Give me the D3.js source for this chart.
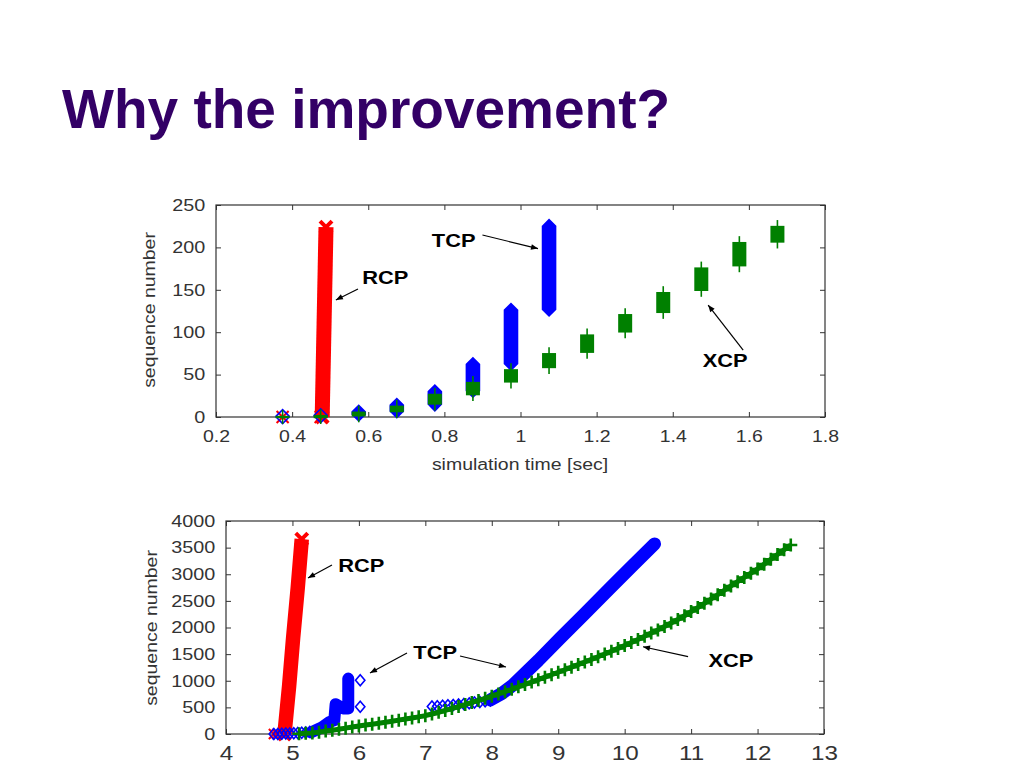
<!DOCTYPE html>
<html>
<head>
<meta charset="utf-8">
<script src="https://cdn.jsdelivr.net/npm/d3@7"></script>
<style>body{margin:0;background:#fff}</style>
</head>
<body>
<script>
// ---- top panel: one burst of packets per RTT ----
const topTimes = [0.375, 0.475, 0.575, 0.675, 0.775, 0.875, 0.975, 1.075, 1.175, 1.275, 1.375, 1.475, 1.575, 1.675];
const tcpTopLo = [0, 1, 3, 7, 15, 31, 63, 127];
const tcpTopHi = [1, 2, 6, 14, 30, 62, 126, 225];
const xcpTopLo = [0, 0, 2, 7, 16, 27, 42, 59, 77, 101, 124, 150, 179, 207];
const xcpTopHi = [0, 1, 5, 12, 26, 40, 55, 74, 96, 120, 146, 175, 205, 224];
const rcpTopBand = [[0.479, 0], [0.489, 224]];
const rcpTopMarks = [[0.375, 0], [0.475, 0]];
const topXTicks = [0.2, 0.4, 0.6, 0.8, 1, 1.2, 1.4, 1.6, 1.8];
const topYTicks = [0, 50, 100, 150, 200, 250];

// ---- bottom panel ----
const rcpBotBand = [[4.88, 0], [4.95, 900], [5.01, 1800], [5.08, 2750], [5.14, 3660]];
const rcpBotMarks = [[4.72, 0], [4.77, 0]];
const tcpBotStart = [[4.72, 0], [4.78, 0], [4.84, 5], [4.9, 10], [4.96, 10], [5.02, 15], [5.08, 20], [5.14, 25], [5.2, 30], [5.26, 40]];
const tcpBotSlow = [[5.28, 30], [5.45, 130], [5.55, 220], [5.63, 260], [5.65, 560], [5.76, 480], [5.84, 480], [5.84, 1040]];
const tcpBotLost = [[6.02, 1010], [6.02, 510]];
const tcpBotFlat = [[7.1, 515], [7.18, 520], [7.26, 530], [7.34, 540], [7.42, 545], [7.5, 555], [7.58, 565], [7.66, 575], [7.74, 590], [7.82, 600], [7.9, 615], [7.98, 630]];
const tcpBotBand = [[7.98, 640], [8.15, 760], [8.3, 900], [8.7, 1380], [9.03, 1800], [9.4, 2260], [9.78, 2740], [10.1, 3140], [10.45, 3570]];
const xcpBotTime = [5.1, 5.2, 5.3, 5.4, 5.5, 5.6, 5.7, 5.8, 5.9, 6.0, 6.1, 6.2, 6.3, 6.4, 6.5, 6.6, 6.7, 6.8, 6.9, 7.0,
  7.1, 7.2, 7.3, 7.4, 7.5, 7.6, 7.7, 7.8, 7.9, 8.0, 8.1, 8.2, 8.3, 8.4, 8.5, 8.6, 8.7, 8.8, 8.9, 9.0,
  9.1, 9.2, 9.3, 9.4, 9.5, 9.6, 9.7, 9.8, 9.9, 10.0, 10.1, 10.2, 10.3, 10.4, 10.5, 10.6, 10.7, 10.8, 10.9, 11.0,
  11.1, 11.2, 11.3, 11.4, 11.5, 11.6, 11.7, 11.8, 11.9, 12.0, 12.1, 12.2, 12.3, 12.4, 12.5];
const xcpBotSeq = [5, 12, 20, 35, 55, 72, 90, 110, 130, 150, 168, 185, 203, 222, 240, 260, 280, 300, 322, 345,
  375, 408, 443, 478, 515, 553, 592, 630, 670, 710, 752, 795, 840, 885, 930, 975, 1020, 1067, 1113, 1160,
  1207, 1255, 1303, 1352, 1400, 1450, 1502, 1555, 1607, 1660, 1718, 1776, 1835, 1895, 1955, 2020, 2085, 2150, 2220, 2300,
  2375, 2455, 2535, 2615, 2700, 2780, 2860, 2940, 3020, 3100, 3190, 3280, 3370, 3460, 3550];
const botXTicks = [4, 5, 6, 7, 8, 9, 10, 11, 12, 13];
const botYTicks = [0, 500, 1000, 1500, 2000, 2500, 3000, 3500, 4000];

// annotations (data coords)
const topNotes = [
  {text: "RCP", at: [0.584, 165], arrows: [[[0.573, 151], [0.515, 138]]]},
  {text: "TCP", at: [0.767, 208], arrows: [[[0.90, 214.6], [1.046, 198.6]]]},
  {text: "XCP", at: [1.479, 67], arrows: [[[1.585, 79], [1.493, 132]]]}
];
const botNotes = [
  {text: "RCP", at: [5.69, 3164], arrows: [[[5.595, 3174], [5.234, 2930]]]},
  {text: "TCP", at: [6.82, 1530], arrows: [[[6.724, 1521], [6.167, 1146]], [[7.522, 1465], [8.214, 1258]]]},
  {text: "XCP", at: [11.26, 1374], arrows: [[[10.954, 1452], [10.276, 1639]]]}
];

const FONT = "'Liberation Sans', Arial, sans-serif";
const RED = "#ff0000", BLUE = "#0000ff", GREEN = "#008000";

const svg = d3.select("body").append("svg")
    .attr("width", 1024)
    .attr("height", 768)
    .style("background-color", "#fff");

svg.append("defs").append("marker")
    .attr("id", "arrow")
    .attr("viewBox", "0 0 10 10")
    .attr("refX", 10).attr("refY", 5)
    .attr("markerUnits", "userSpaceOnUse")
    .attr("markerWidth", 9).attr("markerHeight", 7)
    .attr("orient", "auto")
  .append("path")
    .attr("d", "M0,1L10,5L0,9z")
    .attr("fill", "#000");

svg.append("text")
    .attr("x", 62).attr("y", 128)
    .attr("font-family", FONT)
    .attr("font-weight", "bold")
    .attr("font-size", 55)
    .attr("fill", "#330066")
    .text("Why the improvement?");

// scales
const xT = d3.scaleLinear().domain([0.2, 1.8]).range([216, 825]);
const yT = d3.scaleLinear().domain([0, 250]).range([417, 205]);
const xB = d3.scaleLinear().domain([4, 13]).range([226, 824]);
const yB = d3.scaleLinear().domain([0, 4000]).range([734, 521]);

function styleAxis(a, fs, stretch) {
  a.select(".domain").remove();
  a.selectAll("line").attr("stroke", "#333");
  a.selectAll("text")
      .attr("font-family", FONT)
      .attr("font-size", fs)
      .attr("fill", "#333")
      .attr("transform", `scale(${stretch},1)`);
}

function drawFrame(g, x, y, xTicks, yTicks, xFs, xPad) {
  const [x0, x1] = x.range(), [y0, y1] = y.range();
  let a;
  a = g.append("g").attr("transform", `translate(0,${y0})`)
      .call(d3.axisBottom(x).tickValues(xTicks).tickSizeInner(-5).tickSizeOuter(0).tickPadding(xPad).tickFormat(d => String(d)));
  styleAxis(a, xFs, 1.18);
  a = g.append("g").attr("transform", `translate(0,${y1})`)
      .call(d3.axisTop(x).tickValues(xTicks).tickSizeInner(-5).tickSizeOuter(0).tickFormat(""));
  styleAxis(a, xFs, 1);
  a = g.append("g").attr("transform", `translate(${x0},0)`)
      .call(d3.axisLeft(y).tickValues(yTicks).tickSizeInner(-5).tickSizeOuter(0).tickPadding(9).tickFormat(d => String(d)));
  styleAxis(a, 16.5, 1.2);
  a = g.append("g").attr("transform", `translate(${x1},0)`)
      .call(d3.axisRight(y).tickValues(yTicks).tickSizeInner(-5).tickSizeOuter(0).tickFormat(""));
  styleAxis(a, 16.5, 1);
  g.append("rect")
      .attr("x", x0).attr("y", y1)
      .attr("width", x1 - x0).attr("height", y0 - y1)
      .attr("fill", "none").attr("stroke", "#333").attr("stroke-width", 1.2);
}

function chartText(g, px, py, txt, fs, bold, rot) {
  g.append("text")
      .attr("transform", `translate(${px},${py})` + (rot ? " rotate(-90)" : "") + " scale(1.18,1)")
      .attr("text-anchor", bold ? "start" : "middle")
      .attr("font-family", FONT)
      .attr("font-size", fs)
      .attr("font-weight", bold ? "bold" : "normal")
      .attr("fill", bold ? "#000" : "#333")
      .text(txt);
}

function xMark(g, cx, cy, h, color, sw) {
  g.append("path")
      .attr("d", `M${cx - h},${cy - h}L${cx + h},${cy + h}M${cx - h},${cy + h}L${cx + h},${cy - h}`)
      .attr("stroke", color).attr("stroke-width", sw || 2).attr("fill", "none");
}
function plusMark(g, cx, cy, h, color) {
  g.append("path")
      .attr("d", `M${cx - h},${cy}L${cx + h},${cy}M${cx},${cy - h}L${cx},${cy + h}`)
      .attr("stroke", color).attr("stroke-width", 2.6).attr("fill", "none");
}
function diamond(g, cx, cy, h, color) {
  g.append("path")
      .attr("d", `M${cx},${cy - h}L${cx + h * 0.85},${cy}L${cx},${cy + h}L${cx - h * 0.85},${cy}Z`)
      .attr("stroke", color).attr("stroke-width", 1.6).attr("fill", "none");
}

function notes(g, list, x, y) {
  list.forEach(n => {
    chartText(g, x(n.at[0]), y(n.at[1]) + 6.6, n.text, 18.5, true, false);
    n.arrows.forEach(ar => {
      g.append("line")
          .attr("x1", x(ar[0][0])).attr("y1", y(ar[0][1]))
          .attr("x2", x(ar[1][0])).attr("y2", y(ar[1][1]))
          .attr("stroke", "#000").attr("stroke-width", 1.2)
          .attr("marker-end", "url(#arrow)");
    });
  });
}

// ================= top panel =================
const gT = svg.append("g");
drawFrame(gT, xT, yT, topXTicks, topYTicks, 16.5, 13);
chartText(gT, 520, 470, "simulation time [sec]", 16.5, false, false);
chartText(gT, 155, 310, "sequence number", 16.5, false, true);

// RCP
gT.append("line")
    .attr("x1", xT(rcpTopBand[0][0])).attr("y1", yT(rcpTopBand[0][1]))
    .attr("x2", xT(rcpTopBand[1][0])).attr("y2", yT(rcpTopBand[1][1]))
    .attr("stroke", RED).attr("stroke-width", 15);
rcpTopBand.forEach(p => xMark(gT, xT(p[0]), yT(p[1]), 6, RED, 4));
rcpTopMarks.forEach(p => xMark(gT, xT(p[0]), yT(p[1]), 6, RED));

// TCP
tcpTopLo.forEach((lo, i) => {
  const cx = xT(topTimes[i]), h = 6.5;
  const yl = yT(lo), yh = yT(tcpTopHi[i]);
  const big = tcpTopHi[i] - lo >= 3;
  gT.append("path")
      .attr("d", `M${cx - h},${yh}L${cx},${yh - h}L${cx + h},${yh}L${cx + h},${yl}L${cx},${yl + h}L${cx - h},${yl}Z`)
      .attr("fill", big ? BLUE : "none")
      .attr("stroke", BLUE).attr("stroke-width", 1.6);
});

// XCP
xcpTopLo.forEach((lo, i) => {
  const cx = xT(topTimes[i]);
  const yl = yT(lo), yh = yT(xcpTopHi[i]);
  gT.append("rect")
      .attr("x", cx - 7).attr("y", yh - 1.2)
      .attr("width", 14).attr("height", yl - yh + 2.4)
      .attr("fill", GREEN);
  gT.append("line")
      .attr("x1", cx).attr("x2", cx)
      .attr("y1", yh - 7).attr("y2", yl + 7)
      .attr("stroke", GREEN).attr("stroke-width", 1.6);
});

notes(gT, topNotes, xT, yT);

// ================= bottom panel =================
const gB = svg.append("g");
drawFrame(gB, xB, yB, botXTicks, botYTicks, 20.5, 11);
chartText(gB, 157, 628, "sequence number", 16.5, false, true);

const line = (x, y) => d3.line().x(d => x(d[0])).y(d => y(d[1]));

// RCP
gB.append("path")
    .attr("d", line(xB, yB)(rcpBotBand))
    .attr("fill", "none").attr("stroke", RED).attr("stroke-width", 14.5);
[rcpBotBand[0], rcpBotBand[rcpBotBand.length - 1]].forEach(p => xMark(gB, xB(p[0]), yB(p[1]), 6, RED, 4));
rcpBotMarks.forEach(p => xMark(gB, xB(p[0]), yB(p[1]), 5, RED));

// TCP
tcpBotStart.forEach(p => diamond(gB, xB(p[0]), yB(p[1]), 5.5, BLUE));
gB.append("path")
    .attr("d", line(xB, yB)(tcpBotSlow))
    .attr("fill", "none").attr("stroke", BLUE).attr("stroke-width", 12)
    .attr("stroke-linejoin", "round").attr("stroke-linecap", "round");
tcpBotLost.forEach(p => diamond(gB, xB(p[0]), yB(p[1]), 5.5, BLUE));
tcpBotFlat.forEach(p => diamond(gB, xB(p[0]), yB(p[1]), 5.5, BLUE));
gB.append("path")
    .attr("d", line(xB, yB)(tcpBotBand))
    .attr("fill", "none").attr("stroke", BLUE).attr("stroke-width", 13)
    .attr("stroke-linejoin", "round").attr("stroke-linecap", "round");

// XCP
const xcpPts = xcpBotTime.map((t, i) => [t, xcpBotSeq[i]]);
gB.append("path")
    .attr("d", line(xB, yB)(xcpPts))
    .attr("fill", "none").attr("stroke", GREEN).attr("stroke-width", 5)
    .attr("stroke-linejoin", "round");
xcpPts.forEach(p => plusMark(gB, xB(p[0]), yB(p[1]), 6.5, GREEN));

notes(gB, botNotes, xB, yB);
</script>
</body>
</html>
